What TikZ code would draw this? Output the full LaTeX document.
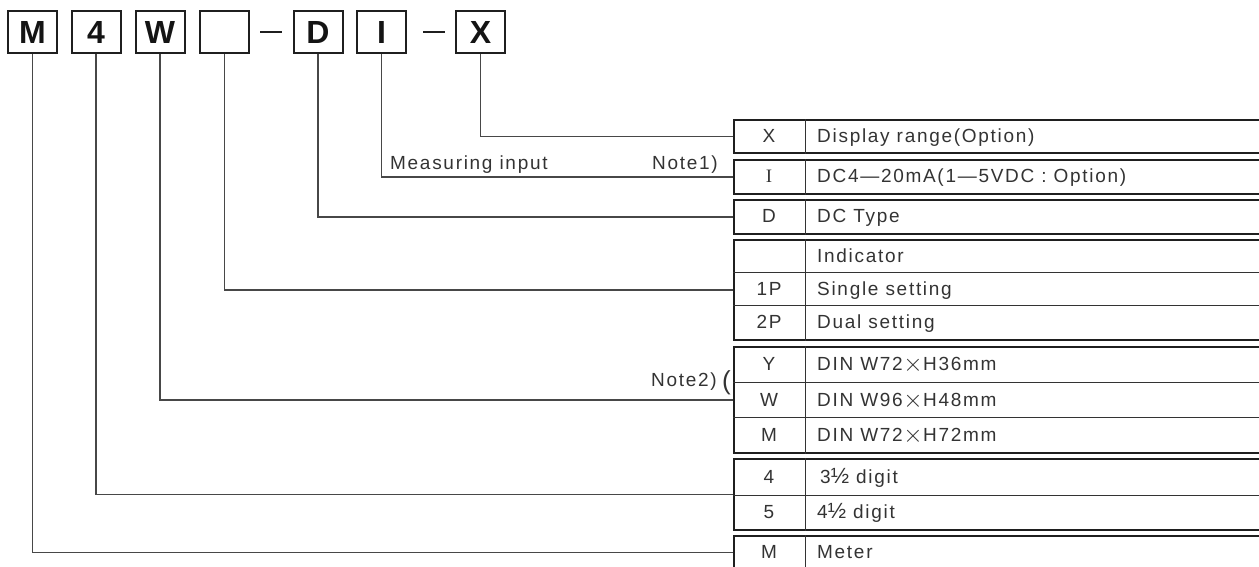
\documentclass[tikz,border=0pt]{standalone}
\usepackage{fontspec}
\setmainfont{Liberation Sans}
\newfontfamily\tabfont[LetterSpace=9]{Liberation Sans}
\newfontfamily\serfont{Liberation Serif}
\newcommand{\bigtimes}{\kern0.5pt\raisebox{-1pt}{\fontsize{27}{27}\selectfont$\times$}\kern0.5pt}
\begin{document}
\begin{tikzpicture}[x=1pt,y=-1pt,
  codebox/.style={draw=black!88, line width=2pt, minimum width=49pt, minimum height=42pt, inner sep=0pt,
    font=\fontsize{32}{32}\selectfont\bfseries, text=black!92},
  grp/.style={draw=black!88, line width=2pt, inner sep=0pt, minimum width=530pt, anchor=north west},
  cell/.style={draw=black!80, line width=0.9pt},
  tx/.style={font=\tabfont\fontsize{19}{19}\selectfont, text=black!80, inner sep=0pt, text height=13.6pt, text depth=0pt},
  key/.style={tx, anchor=center},
  desc/.style={tx, anchor=west},
  lbl/.style={font=\tabfont\fontsize{19}{19}\selectfont, text=black!80, inner sep=0pt},
  conn/.style={draw=black!72, line width=1.3pt},
  dashline/.style={draw=black!88, line width=2.2pt}
]
\useasboundingbox (0,0) rectangle (1259,566);

% model code boxes
\node[codebox] (cM) at (32.5,32) {M};
\node[codebox] (c4) at (96,32) {4};
\node[codebox] (cW) at (160,32) {W};
\node[codebox] (cB) at (224.5,32) {};
\node[codebox] (cD) at (318,32) {D};
\node[codebox] (cI) at (381.5,32) {I};
\node[codebox] (cX) at (480.5,32) {X};
\draw[dashline] (260,32) -- (282,32);
\draw[dashline] (423,32) -- (445,32);

% table groups
\node[grp, minimum height=33pt] (g1) at (733,119) {};
\node[grp, minimum height=34pt] (g2) at (733,159) {};
\node[grp, minimum height=34pt] (g3) at (733,199) {};
\node[grp, minimum height=100pt] (g4) at (733,239) {};
\node[grp, minimum height=106pt] (g5) at (733,346) {};
\node[grp, minimum height=71pt] (g6) at (733,458) {};
\node[grp, minimum height=33pt] (g7) at (733,535) {};

% column divider
\foreach \g in {g1,g2,g3,g4,g5,g6,g7}
  \draw[cell] ([xshift=72pt]\g.north west) -- ([xshift=72pt]\g.south west);
% row lines
\draw[cell] (733,272) -- (1263,272);
\draw[cell] (733,305) -- (1263,305);
\draw[cell] (733,382) -- (1263,382);
\draw[cell] (733,417) -- (1263,417);
\draw[cell] (733,495) -- (1263,495);

% table texts
\node[key] (kX) at (769,135.5) {X};
\node[desc] (dX) at (817,135.5) {Display range(Option)};
\node[key] (kI) at (769,176) {\serfont I};
\node[desc] (dI) at (817,176) {DC4—20mA(1—5VDC : Option)};
\node[key] (kD) at (769,216) {D};
\node[desc] (dD) at (817,216) {DC Type};
\node[desc] (dInd) at (817,255.5) {Indicator};
\node[key] (k1P) at (769,288.5) {1P};
\node[desc] (d1P) at (817,288.5) {Single setting};
\node[key] (k2P) at (769,322) {2P};
\node[desc] (d2P) at (817,322) {Dual setting};
\node[key] (kY) at (769,364) {Y};
\node[desc] (dY) at (817,364) {DIN W72\bigtimes H36mm};
\node[key] (kW) at (769,399.5) {W};
\node[desc] (dW) at (817,399.5) {DIN W96\bigtimes H48mm};
\node[key] (kM) at (769,434.5) {M};
\node[desc] (dM) at (817,434.5) {DIN W72\bigtimes H72mm};
\node[key] (k4) at (769,476.5) {4};
\node[desc] (d4) at (820,476.5) {3{\fontsize{22}{22}\selectfont½} digit};
\node[key] (k5) at (769,512) {5};
\node[desc] (d5) at (817,512) {4{\fontsize{22}{22}\selectfont½} digit};
\node[key] (kMe) at (769,551.5) {M};
\node[desc] (dMe) at (817,551.5) {Meter};

% connectors
\draw[conn] (cX.south) |- (g1.west);
\draw[conn] (cI.south) |- (g2.west);
\draw[conn] (cD.south) |- (g3.west);
\draw[conn] (cB.south) |- (g4.west);
\draw[conn] (cW.south) |- (g5.west);
\draw[conn] (c4.south) |- (g6.west);
\draw[conn] (cM.south) |- (g7.west);

% labels
\node[lbl, anchor=base west] (lmeas) at (390,169) {Measuring input};
\node[lbl, anchor=base east] (lnote1) at (718,169) {Note1)};
\node[lbl, anchor=base east] (lnote2) at (717,386) {Note2)};
\node[font=\fontsize{26}{26}\selectfont, text=black!80, inner sep=0pt, anchor=base] (lpar) at (726.5,389) {(};
\end{tikzpicture}
\end{document}
